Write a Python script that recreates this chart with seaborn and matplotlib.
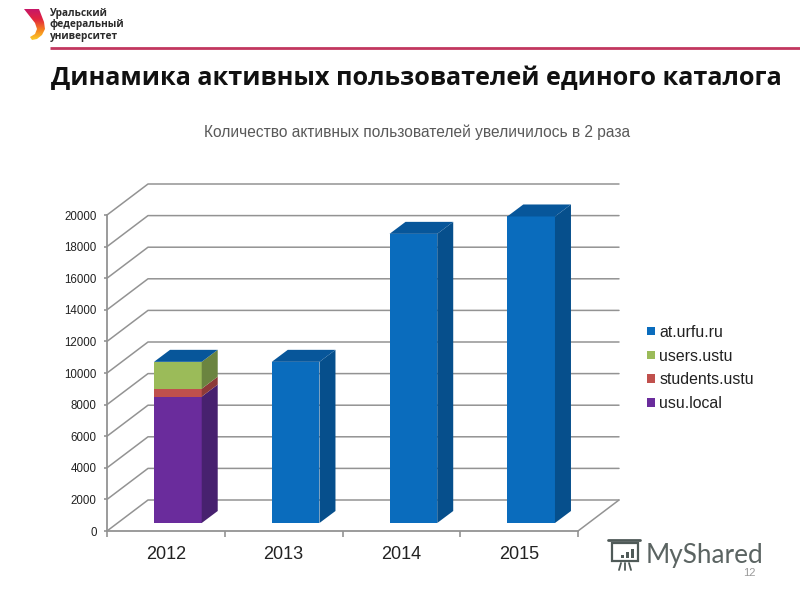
import numpy as np
import matplotlib
matplotlib.use("Agg")
import matplotlib.pyplot as plt
from matplotlib.patches import Patch, Polygon, Rectangle
import seaborn as sns

years = ["2012", "2013", "2014", "2015"]
usu_local = [8000, 0, 0, 0]
students_ustu = [500, 0, 0, 0]
users_ustu = [1700, 0, 0, 0]
at_urfu = [0, 10200, 18300, 19400]
y_ticks = list(range(0, 20001, 2000))

title = "Динамика активных пользователей единого каталога"
subtitle = "Количество активных пользователей увеличилось в 2 раза"
logo_lines = ["Уральский", "федеральный", "университет"]

# name, values, front, side, top
series = [
    ("usu.local", usu_local, "#6a2c9c", "#47216f", "#47216f"),
    ("students.ustu", students_ustu, "#c0504d", "#8d3a38", "#8d3a38"),
    ("users.ustu", users_ustu, "#9bbb59", "#6b8440", "#6b8440"),
    ("at.urfu.ru", at_urfu, "#0a6cbd", "#064f8c", "#07569a"),
]
legend_order = ["at.urfu.ru", "users.ustu", "students.ustu", "usu.local"]

sns.set_theme(style="white")
plt.rcParams["font.family"] = ["Liberation Sans", "DejaVu Sans"]

W, H = 800, 600
fig = plt.figure(figsize=(W / 100, H / 100), dpi=100, facecolor="white")


def box(left, top, right, bottom):
    return [left / W, (H - bottom) / H, (right - left) / W, (bottom - top) / H]


# front plane of the fake 3d chart, holds the real axis
ax = fig.add_axes(box(107, 215, 578, 531))
ax.set_facecolor("none")
ax.set_xlim(-0.5, 3.5)
ax.set_ylim(0, 20000)

px_x = 4 / 471
px_y = 20000 / 316
grid_c = "#939393"
wall_dx, wall_dy = 41 * px_x, 31 * px_y

for v in y_ticks:
    ax.plot([-0.5, -0.5 + wall_dx, 3.5 + wall_dx], [v, v + wall_dy, v + wall_dy],
            color=grid_c, lw=1.1, clip_on=False, zorder=1)
ax.plot([3.5, 3.5 + wall_dx], [0, wall_dy], color=grid_c, lw=1.1, clip_on=False, zorder=1)

for s in ["top", "right"]:
    ax.spines[s].set_visible(False)
for s in ["left", "bottom"]:
    ax.spines[s].set_color(grid_c)
    ax.spines[s].set_linewidth(1.3)
ax.set_yticks(y_ticks)
ax.set_yticklabels([str(v) for v in y_ticks], fontsize=8.3, color="#222222")
ax.set_xticks(np.arange(5) - 0.5)
ax.set_xticklabels([])
ax.set_xticks(np.arange(4), labels=years, minor=True)
ax.tick_params(axis="x", which="major", length=4, width=1.2, color=grid_c, bottom=True)
ax.tick_params(axis="x", which="minor", length=0, labelsize=13, labelcolor="#222222", pad=11)
ax.tick_params(axis="y", length=2.5, width=1.2, color=grid_c, left=True, pad=5)

# bars sit a bit behind the front plane, so their axes is shifted
bx = fig.add_axes(box(119, 207, 590, 523))
bx.set_facecolor("none")

depth_x, depth_y = 16 * px_x, 12 * px_y
bottom = np.zeros(len(years))
for name, vals, front, side, top in series:
    n0 = len(bx.patches)
    sns.barplot(x=years, y=vals, bottom=bottom, color=front, saturation=1,
                width=0.405, errorbar=None, ax=bx)
    bars = bx.patches[n0:]
    for rect in bars:
        x0, y0 = rect.get_x(), rect.get_y()
        w, h = rect.get_width(), rect.get_height()
        rect.set_edgecolor("none")
        if h > 0:
            bx.add_patch(Polygon([(x0 + w, y0), (x0 + w + depth_x, y0 + depth_y),
                                  (x0 + w + depth_x, y0 + h + depth_y), (x0 + w, y0 + h)],
                                 fc=side, ec="none", clip_on=False))
        if name == "at.urfu.ru":
            y1 = y0 + h
            bx.add_patch(Polygon([(x0, y1), (x0 + w, y1), (x0 + w + depth_x, y1 + depth_y),
                                  (x0 + depth_x, y1 + depth_y)],
                                 fc=top, ec="none", clip_on=False))
    bottom = bottom + np.array(vals)

bx.set_xlim(-0.5, 3.5)
bx.set_ylim(0, 20000)
bx.axis("off")

colors = {name: front for name, _, front, _, _ in series}
handles = [Patch(fc=colors[n], ec="none", label=n) for n in legend_order]
fig.legend(handles=handles, loc="center left", bbox_to_anchor=(647 / W, (H - 368) / H),
           frameon=False, fontsize=11.4, labelcolor="#222222", handlelength=0.48,
           handleheight=0.48, handletextpad=0.3, labelspacing=0.56, borderpad=0,
           borderaxespad=0)

# slide decoration in pixel coordinates
over = fig.add_axes([0, 0, 1, 1], zorder=5)
over.set_facecolor("none")
over.set_xlim(0, W)
over.set_ylim(H, 0)
over.axis("off")

over.plot([50, 800], [48, 48], color="#c2375f", lw=2, solid_capstyle="butt")

logo = Polygon([(24, 9), (39, 9), (44, 22), (45, 29), (42, 35), (37, 39), (32, 40), (30, 37),
                (35, 34), (37, 29), (35, 23)], transform=over.transData, fc="none", ec="none")
over.add_patch(logo)
grad = over.imshow(np.linspace(0, 1, 64).reshape(-1, 1), extent=(22, 47, 41, 8), aspect="auto",
                   cmap=matplotlib.colors.LinearSegmentedColormap.from_list(
                       "logo", ["#c4166c", "#e2243f", "#f5821f", "#fbd32a"]))
grad.set_clip_path(logo)
over.set_xlim(0, W)
over.set_ylim(H, 0)

for i, line in enumerate(logo_lines):
    over.text(50, 13.5 + i * 11.5, line, fontsize=7.3, fontweight="bold", color="#2b2b2b",
              va="center", family=["Open Sans", "DejaVu Sans"])

over.text(416, 78.5, title, fontsize=18.2, fontweight="bold", color="#111111", ha="center",
          va="center", family=["Open Sans", "DejaVu Sans"])
over.text(417, 132, subtitle, fontsize=11.2, color="#595959", ha="center", va="center")

# watermark
mark_c = "#4f5a58"
over.add_patch(Rectangle((612, 543), 26, 18, fc="white", ec=mark_c, lw=1.6))
over.plot([608, 640], [540, 540], color=mark_c, lw=2)
for x, hgt in zip([621, 626, 631], [3, 6, 9]):
    over.add_patch(Rectangle((x, 558 - hgt), 3, hgt, fc=mark_c, ec="none"))
for x0, x1 in [(621, 619), (625, 625), (629, 631)]:
    over.plot([x0, x1], [563, 570], color=mark_c, lw=1.3)
over.text(646, 555, "MyShared", fontsize=18.8, color="#5b6462", va="center",
          family=["Lato", "DejaVu Sans"])
over.text(749, 573, "12", fontsize=8, color="#9a9a9a", ha="center", va="center")

fig.savefig("out.png", dpi=100)
